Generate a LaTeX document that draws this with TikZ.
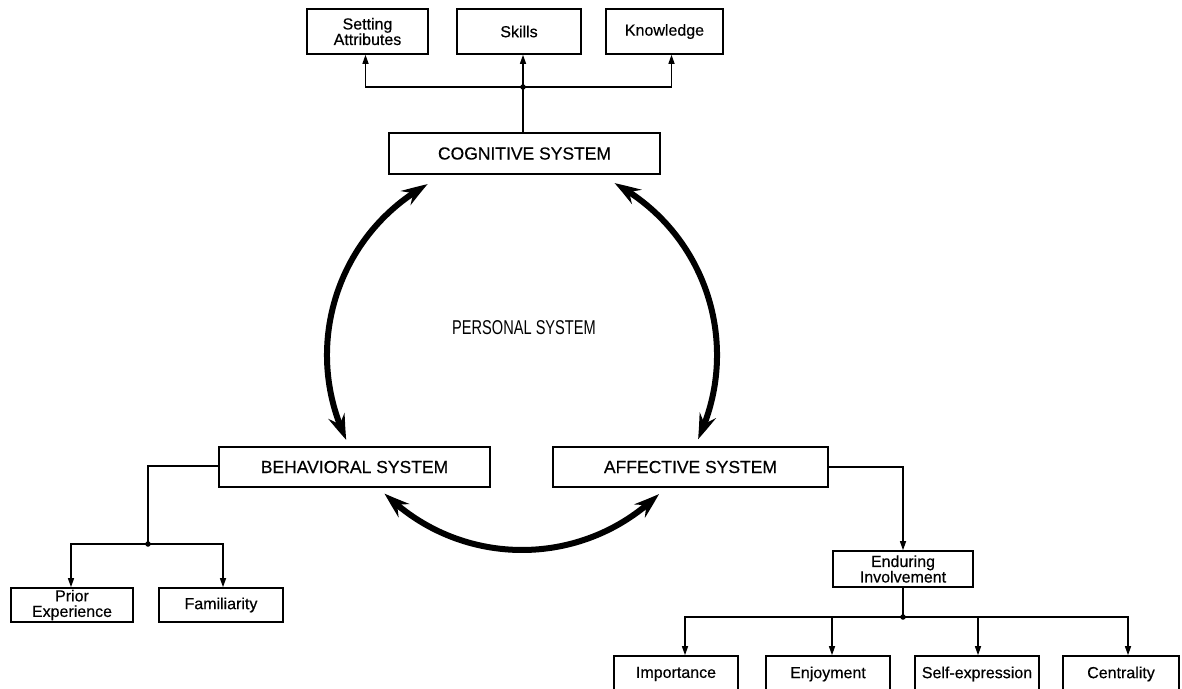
\documentclass[tikz,border=0pt]{standalone}
\usepackage{fontspec}
\setmainfont{Liberation Sans}
\newfontfamily\labelfont{Liberation Sans}[FakeBold=0.4]
\usepackage{graphicx}
\usetikzlibrary{arrows.meta,bending,calc}

\begin{document}
\begin{tikzpicture}[x=1pt,y=-1pt,
  box/.style={draw,line width=1.6pt,inner sep=0pt,align=center},
  sysbox/.style={box,font=\labelfont\fontsize{17.5}{17.5}\selectfont,minimum height=40pt},
  leaf/.style={box,font=\labelfont\fontsize{16}{15.5}\selectfont},
  link/.style={line width=1.3pt},
  arr/.style={link,-{Triangle[length=9pt,width=6pt]}},
  cycarrow/.style={line width=6pt,
    {Stealth[length=26pt,width=17pt,inset=9pt,bend]}-{Stealth[length=26pt,width=17pt,inset=9pt,bend]}},
  dot/.style={circle,fill,inner sep=0pt,minimum size=5.5pt}]

\clip (0,0) rectangle (1182,688);

% cognitive system and its components
\node[leaf,minimum width=121pt,minimum height=45pt] (set) at (367.5,31.5) {Setting\\Attributes};
\node[leaf,minimum width=124pt,minimum height=45pt] (skl) at (519,31.5) {Skills};
\node[leaf,minimum width=117pt,minimum height=45pt] (knw) at (664.5,31.5) {Knowledge};
\node[sysbox,minimum width=271pt,minimum height=41pt] (cog) at (524.5,153.5) {COGNITIVE SYSTEM};

\coordinate (cj) at (523,87);
\draw[link] (cog.north -| cj) -- (cj);
\draw[arr] (cj) -| ([xshift=-2pt]set.south);
\draw[arr] (cj) -- (cj |- skl.south);
\draw[arr] (cj) -| ([xshift=7pt]knw.south);
\node[dot] (cjd) at (cj) {};

% centre label
\node[font=\fontsize{20}{20}\selectfont] (ps) at (524,328) {\scalebox{0.73}[1]{PERSONAL SYSTEM}};

% behavioral and affective systems
\node[sysbox,minimum width=271pt] (beh) at (354.5,467) {BEHAVIORAL SYSTEM};
\node[sysbox,minimum width=275pt] (aff) at (690.5,467) {AFFECTIVE SYSTEM};

% circular two-way arrows of the personal system
\coordinate (hub) at (522,355);
\draw[cycarrow] ([shift={(-118.9:195)}]hub) arc[start angle=-118.9,end angle=-205.8,radius=195];
\draw[cycarrow] ([shift={(-61.7:195)}]hub) arc[start angle=-61.7,end angle=25.6,radius=195];
\draw[cycarrow] ([shift={(-225.2:195)}]hub) arc[start angle=-225.2,end angle=-314.6,radius=195];

% behavioral components
\node[leaf,minimum width=122pt,minimum height=34pt] (pri) at (72,605) {Prior\\Experience};
\node[leaf,minimum width=124pt,minimum height=34pt] (fam) at (221,605) {Familiarity};
\coordinate (bj) at (148,544);
\draw[link] ([yshift=1pt]beh.west) -| (bj);
\draw[arr] (bj) -| ([xshift=-1pt]pri.north);
\draw[arr] (bj) -| ([xshift=2pt]fam.north);
\node[dot] (bjd) at (bj) {};

% affective components
\node[leaf,minimum width=140pt,minimum height=36pt] (end) at (903,569) {Enduring\\Involvement};
\draw[arr] (aff.east) -| (end.north);

\node[leaf,minimum width=124pt,minimum height=36pt] (imp) at (676,674) {Importance};
\node[leaf,minimum width=124pt,minimum height=36pt] (enj) at (828,674) {Enjoyment};
\node[leaf,minimum width=124pt,minimum height=36pt] (slf) at (977,674) {Self-expression};
\node[leaf,minimum width=116pt,minimum height=36pt] (cen) at (1121,674) {Centrality};

\coordinate (ej) at (903,617);
\draw[link] (end.south) -- (ej);
\draw[arr] (ej) -| ([xshift=9pt]imp.north);
\draw[arr] (ej) -| ([xshift=4pt]enj.north);
\draw[arr] (ej) -| ([xshift=1pt]slf.north);
\draw[arr] (ej) -| ([xshift=7pt]cen.north);
\node[dot] (ejd) at (ej) {};

\end{tikzpicture}
\end{document}
